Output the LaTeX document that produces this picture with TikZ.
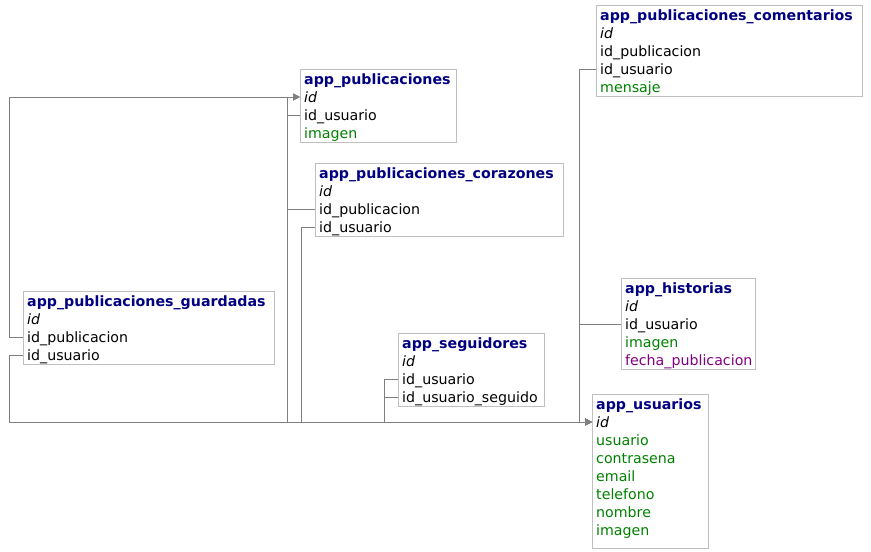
\documentclass[tikz,border=0pt]{standalone}
\usepackage{fontspec}
\setmainfont{DejaVu Sans}
\usetikzlibrary{arrows.meta}
\definecolor{ttl}{HTML}{000080}
\definecolor{fgreen}{HTML}{008000}
\definecolor{fpurple}{HTML}{800080}
\definecolor{boxgray}{HTML}{C0C0C0}
\definecolor{linegray}{HTML}{808080}
\tikzset{
  tbl/.style={draw=boxgray, line width=1pt, inner sep=0pt, anchor=north west},
  fld/.style={inner sep=0pt, anchor=west, text height=12pt, text depth=2pt,
    font=\fontsize{14.2}{17}\selectfont},
  ttlf/.style={fld, text=ttl, font=\fontsize{14.2}{17}\selectfont\bfseries},
  idf/.style={fld, font=\fontsize{14.2}{17}\selectfont\itshape},
  grf/.style={fld, text=fgreen},
  puf/.style={fld, text=fpurple},
  conn/.style={draw=linegray, line width=1pt},
  arr/.style={conn, -{Triangle[length=7pt,width=7pt]}, linegray}
}
\begin{document}
\begin{tikzpicture}[x=1pt,y=-1pt]
\useasboundingbox (0,0) rectangle (871,552);
% app_publicaciones_comentarios
\node[tbl, minimum width=266pt, minimum height=91pt] (com) at (596,5) {};
\node[ttlf] (m0) at (600,15) {app\_publicaciones\_comentarios};
\node[idf]  (m1) at (600,33) {id};
\node[fld]  (m2) at (600,51) {id\_publicacion};
\node[fld]  (m3) at (600,69) {id\_usuario};
\node[grf]  (m4) at (600,87) {mensaje};
% app_publicaciones
\node[tbl, minimum width=156pt, minimum height=73pt] (pub) at (300,69) {};
\node[ttlf] (p0) at (304,79) {app\_publicaciones};
\node[idf]  (p1) at (304,97) {id};
\node[fld]  (p2) at (304,115) {id\_usuario};
\node[grf]  (p3) at (304,133) {imagen};
% app_publicaciones_corazones
\node[tbl, minimum width=248pt, minimum height=73pt] (cor) at (315,163) {};
\node[ttlf] (c0) at (319,173) {app\_publicaciones\_corazones};
\node[idf]  (c1) at (319,191) {id};
\node[fld]  (c2) at (319,209) {id\_publicacion};
\node[fld]  (c3) at (319,227) {id\_usuario};
% app_publicaciones_guardadas
\node[tbl, minimum width=251pt, minimum height=73pt] (gua) at (23,291) {};
\node[ttlf] (g0) at (27,301) {app\_publicaciones\_guardadas};
\node[idf]  (g1) at (27,319) {id};
\node[fld]  (g2) at (27,337) {id\_publicacion};
\node[fld]  (g3) at (27,355) {id\_usuario};
% app_seguidores
\node[tbl, minimum width=146pt, minimum height=73pt] (seg) at (398,333) {};
\node[ttlf] (s0) at (402,343) {app\_seguidores};
\node[idf]  (s1) at (402,361) {id};
\node[fld]  (s2) at (402,379) {id\_usuario};
\node[fld]  (s3) at (402,397) {id\_usuario\_seguido};
% app_historias
\node[tbl, minimum width=134pt, minimum height=91pt] (his) at (621,278) {};
\node[ttlf] (h0) at (625,288) {app\_historias};
\node[idf]  (h1) at (625,306) {id};
\node[fld]  (h2) at (625,324) {id\_usuario};
\node[grf]  (h3) at (625,342) {imagen};
\node[puf]  (h4) at (625,360) {fecha\_publicacion};
% app_usuarios
\node[tbl, minimum width=116pt, minimum height=154pt] (usu) at (592,394) {};
\node[ttlf] (u0) at (596,404) {app\_usuarios};
\node[idf]  (u1) at (596,422) {id};
\node[grf]  (u2) at (596,440) {usuario};
\node[grf]  (u3) at (596,458) {contrasena};
\node[grf]  (u4) at (596,476) {email};
\node[grf]  (u5) at (596,494) {telefono};
\node[grf]  (u6) at (596,512) {nombre};
\node[grf]  (u7) at (596,530) {imagen};
% connectors to app_publicaciones.id
\draw[arr] (gua.west |- g2) -- ++(-14,0) |- (pub.west |- p1);
\draw[arr] (cor.west |- c2) -- ++(-28,0) |- (pub.west |- p1);
% connectors to app_usuarios.id
\draw[arr] (pub.west |- p2) -- ++(-13,0) |- (usu.west |- u1);
\draw[arr] (cor.west |- c3) -- ++(-14,0) |- (usu.west |- u1);
\draw[arr] (gua.west |- g3) -- ++(-14,0) |- (usu.west |- u1);
\draw[arr] (seg.west |- s2) -- ++(-14,0) |- (usu.west |- u1);
\draw[arr] (seg.west |- s3) -- ++(-14,0) |- (usu.west |- u1);
\draw[arr] (com.west |- m3) -- ++(-17,0) |- (usu.west |- u1);
\draw[arr] (his.west |- h2) -- ++(-42,0) |- (usu.west |- u1);
\end{tikzpicture}
\end{document}
